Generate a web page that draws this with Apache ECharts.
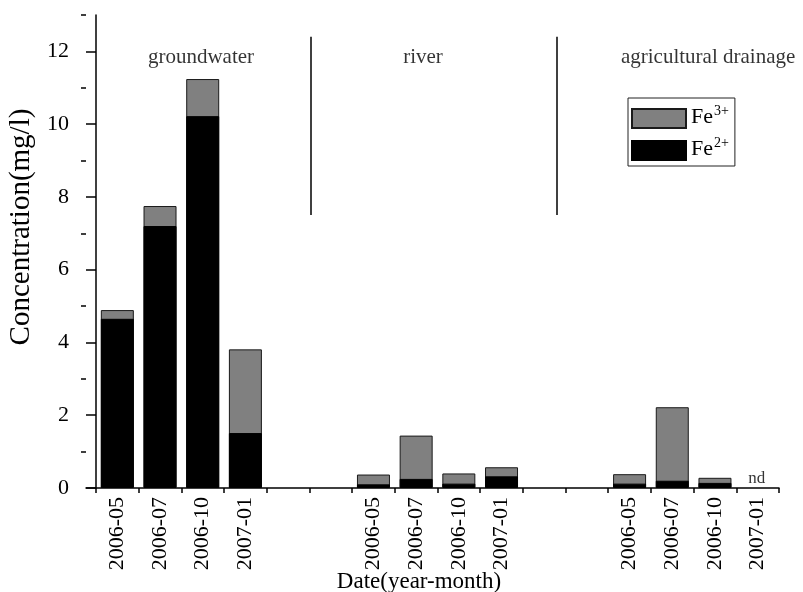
<!DOCTYPE html>
<html>
<head>
<meta charset="utf-8">
<script src="https://cdn.jsdelivr.net/npm/echarts@6/dist/echarts.min.js"></script>
<style>
  html, body { margin: 0; padding: 0; background: #fff; }
  #chart { width: 803px; height: 592px; }
</style>
</head>
<body>
<div id="chart"></div>
<script>
// Sampling dates, grouped by water type; empty slots separate the groups.
const categories = [
  '2006-05', '2006-07', '2006-10', '2007-01', '', '',
  '2006-05', '2006-07', '2006-10', '2007-01', '', '',
  '2006-05', '2006-07', '2006-10', '2007-01'
];
// Ferrous and ferric iron concentrations (mg/l); null = no bar.
const fe2 = [4.65, 7.20, 10.22, 1.51, null, null, 0.10, 0.25, 0.12, 0.32, null, null, 0.12, 0.20, 0.14, null];
const fe3 = [0.24, 0.55, 1.02, 2.30, null, null, 0.27, 1.19, 0.28, 0.25, null, null, 0.26, 2.02, 0.14, null];

// Group headings and their positions (x in slot units, y in mg/l).
const groupNames = ['groundwater', 'river', 'agricultural drainage'];
const groupX = [2.46, 7.66, 14.34];
const groupY = 11.84;
// Vertical separators between groups.
const dividerX = [5.04, 10.8];
const dividerY = [7.5, 12.4];
// "not detected" marker.
const ndIndex = 15;
const ndText = 'nd';

const yTicksMajor = [0, 2, 4, 6, 8, 10, 12];
const yTicksMinor = [1, 3, 5, 7, 9, 11, 13];
const xMin = -0.234;
const yMax = 13;

const FONT = "'Liberation Serif', 'Times New Roman', serif";

// Total iron = Fe2+ + Fe3+; the Fe3+ part shows as the grey cap above Fe2+.
const total = fe2.map((v, i) => v == null ? null : v + fe3[i]);
const xy = arr => arr.map((v, i) => v == null ? null : [i + 0.5, v]).filter(d => d);
const boundaries = categories.map((_, i) => i).concat([categories.length]);
const labelSlots = categories.map((c, i) => c ? i + 0.5 : null).filter(v => v != null);

const chart = echarts.init(document.getElementById('chart'));

const legendRich = {
  b: { fontSize: 22, fontFamily: FONT, color: '#000', lineHeight: 19, verticalAlign: 'bottom' },
  s: { fontSize: 14, fontFamily: FONT, color: '#000', lineHeight: 14, verticalAlign: 'bottom', padding: [0, 0, 10, 1] }
};

chart.setOption({
  animation: false,
  backgroundColor: '#fff',
  grid: { left: 86, right: 24, top: 15, bottom: 104, containLabel: false, outerBoundsMode: 'none' },
  legend: {
    data: ['Fe3+', 'Fe2+'],
    orient: 'vertical',
    left: 628,
    top: 98,
    icon: 'rect',
    itemWidth: 54,
    itemHeight: 19,
    itemGap: 7,
    padding: [6, 6, 5, 3],
    borderColor: '#222',
    borderWidth: 1,
    selectedMode: false,
    formatter: name => '{b|Fe}{s|' + name.slice(2) + '}',
    textStyle: { rich: legendRich }
  },
  xAxis: {
    type: 'value',
    min: xMin,
    max: categories.length,
    name: 'Date(year-month)',
    nameLocation: 'middle',
    nameGap: 82,
    nameMoveOverlap: false,
    nameTextStyle: { fontFamily: FONT, fontSize: 23, color: '#000', padding: [0, 27, 0, 0] },
    axisLine: { show: true, onZero: false, lineStyle: { color: '#000', width: 1.5 } },
    axisTick: { show: true, customValues: boundaries, length: 5, lineStyle: { color: '#000', width: 1.5 } },
    axisLabel: {
      customValues: labelSlots,
      rotate: 90,
      margin: 9,
      fontFamily: FONT,
      fontSize: 22,
      color: '#000',
      formatter: v => categories[Math.floor(v)]
    },
    splitLine: { show: false }
  },
  yAxis: [
    {
      type: 'value',
      min: 0,
      max: yMax,
      name: 'Concentration(mg/l)',
      nameLocation: 'middle',
      nameGap: 50,
      nameMoveOverlap: false,
      nameTextStyle: { fontFamily: FONT, fontSize: 29, color: '#000', padding: [0, 0, 0, 49] },
      axisLine: { show: true, lineStyle: { color: '#000', width: 1.5 } },
      axisTick: { show: true, customValues: yTicksMajor, length: 10, lineStyle: { color: '#000', width: 1.5 } },
      axisLabel: { customValues: yTicksMajor, margin: 17, fontFamily: FONT, fontSize: 22, color: '#000' },
      splitLine: { show: false }
    },
    {
      type: 'value',
      min: 0,
      max: yMax,
      position: 'left',
      axisLine: { show: false },
      axisTick: { show: true, customValues: yTicksMinor, length: 5, lineStyle: { color: '#000', width: 1.5 } },
      axisLabel: { show: false },
      splitLine: { show: false }
    }
  ],
  series: [
    {
      name: 'Fe3+',
      type: 'bar',
      barWidth: 33,
      barGap: '-100%',
      data: xy(total),
      itemStyle: { color: '#808080', borderColor: '#1a1a1a', borderWidth: 1 }
    },
    {
      name: 'Fe2+',
      type: 'bar',
      barWidth: 33,
      barGap: '-100%',
      data: xy(fe2),
      itemStyle: { color: '#000', borderColor: '#000', borderWidth: 1 }
    },
    {
      name: 'groups',
      type: 'scatter',
      symbolSize: 0,
      silent: true,
      data: groupNames.map((n, i) => ({ name: n, value: [groupX[i], groupY] })),
      label: {
        show: true,
        position: 'inside',
        formatter: p => p.name,
        fontFamily: FONT,
        fontSize: 21,
        color: '#000'
      },
      markLine: {
        silent: true,
        symbol: 'none',
        label: { show: false },
        lineStyle: { color: '#000', width: 1.5, type: 'solid' },
        data: dividerX.map(x => [{ coord: [x, dividerY[0]] }, { coord: [x, dividerY[1]] }])
      }
    },
    {
      name: 'notes',
      type: 'scatter',
      symbolSize: 0,
      silent: true,
      data: [{ name: ndText, value: [ndIndex + 0.5, 0] }],
      label: {
        show: true,
        position: 'top',
        distance: 1,
        offset: [-1, 0],
        formatter: p => p.name,
        fontFamily: FONT,
        fontSize: 17,
        color: '#000'
      }
    }
  ]
});
</script>
</body>
</html>
